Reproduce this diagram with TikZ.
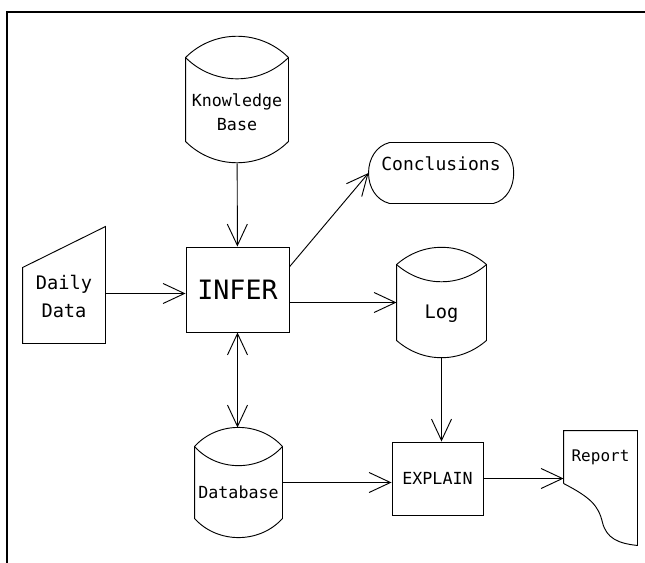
\documentclass[tikz,border=0pt]{standalone}
\usepackage{fontspec}
\setmainfont{DejaVu Sans Mono}
\usetikzlibrary{arrows.meta,calc}

\begin{document}
\begin{tikzpicture}[
  x=0.75pt, y=-0.75pt,
  line width=0.7pt,
  every node/.style={font=\fontsize{12.5}{18}\selectfont,inner sep=0pt},
  procbox/.style={draw,rectangle},
  store/.style={rectangle,text height=24pt,text depth=0pt},
  arr/.style={-{Straight Barb[length=16pt,width=15pt]}},
  dblarr/.style={{Straight Barb[length=16pt,width=15pt]}-{Straight Barb[length=16pt,width=15pt]}},
]
  \useasboundingbox (0,0) rectangle (645,563);

  % Frame
  \draw[line width=1.2pt] (7,563) -- (7,12) -- (645,12);

  % Stores
  \node[minimum width=76.5pt,minimum height=95.25pt,align=center,
        text height=47.2pt,text depth=0pt] (kb) at (237,99.5)
    {Knowledge\\Base};
  \node[store,minimum width=66.75pt,minimum height=81.75pt,
        font=\fontsize{14}{18}\selectfont] (log) at (441.5,302.5) {Log};
  \node[store,minimum width=65.25pt,minimum height=81.75pt] (db) at (238.5,482.5) {Database};

  % Processes
  \node[procbox,minimum width=77.25pt,minimum height=63.75pt,
        font=\fontsize{20}{24}\selectfont] (infer) at (237.5,289.5) {INFER};
  \node[procbox,minimum width=68.25pt,minimum height=54.75pt] (explain) at (437.5,478.5) {EXPLAIN};

  % Input, output, report
  \node[minimum width=61.5pt,minimum height=87pt,align=center,
        text height=48pt,text depth=0pt,
        font=\fontsize{14}{21}\selectfont] (daily) at (64,285) {Daily\\Data};
  \node[minimum width=108pt,minimum height=45pt,text height=9pt,text depth=12.7pt,
        font=\fontsize{13.5}{16}\selectfont] (concl) at (441,173) {Conclusions};
  \node[minimum width=54.75pt,minimum height=39pt,font=\fontsize{12}{14}\selectfont]
    (report) at (600.5,457) {Report};

  % Drum outlines
  \foreach \n/\c/\b in {kb/22/45,log/17/41,db/19/48} {
    \draw ($(\n.north west)+(0,\c)$) to[bend left=\b] ($(\n.north east)+(0,\c)$)
      -- ($(\n.south east)+(0,-\c)$) to[bend left=\b] ($(\n.south west)+(0,-\c)$) -- cycle;
    \draw ($(\n.north west)+(0,\c)$) to[bend right=\b] ($(\n.north east)+(0,\c)$);
  }

  % Manual input
  \draw (daily.south west) -- ($(daily.north west)+(0,41)$) -- (daily.north east)
    -- (daily.south east) -- cycle;

  % Terminal
  \draw ($(concl.north west)+(21,0)$) -- ($(concl.north east)+(-20,0)$)
    .. controls ($(concl.north east)+(7,7)$) and ($(concl.south east)+(7,-7)$)
    .. ($(concl.south east)+(-20,0)$) -- ($(concl.south west)+(21,0)$)
    .. controls ($(concl.south west)+(-7,-7)$) and ($(concl.north west)+(-7,7)$)
    .. ($(concl.north west)+(21,0)$) -- cycle;

  % Document
  \draw (report.south west) -- (report.north west) -- (report.north east)
    -- ($(report.south east)+(0,62)$)
    .. controls ($(report.south east)+(-19,60)$) and ($(report.south east)+(-31,55)$)
    .. ($(report.south east)+(-35,39)$)
    .. controls ($(report.south east)+(-39,22)$) and ($(report.south east)+(-47,14)$)
    .. (report.south west);

  % Arrows
  \draw[arr] ([yshift=-3pt]infer.west -| daily.east) -- ([yshift=-3pt]infer.west);
  \draw[arr] (kb) -- (infer);
  \draw[arr] ([yshift=17pt]infer.east) -- (concl.west);
  \draw[arr] (infer.east |- log) -- (log.west);
  \draw[dblarr] (infer.south) -- (infer.south |- db.north);
  \draw[arr] (log) -- (log |- explain.north);
  \draw[arr] (db) -- (db -| explain.west);
  \draw[arr] (explain) -- (explain -| report.west);
\end{tikzpicture}
\end{document}
